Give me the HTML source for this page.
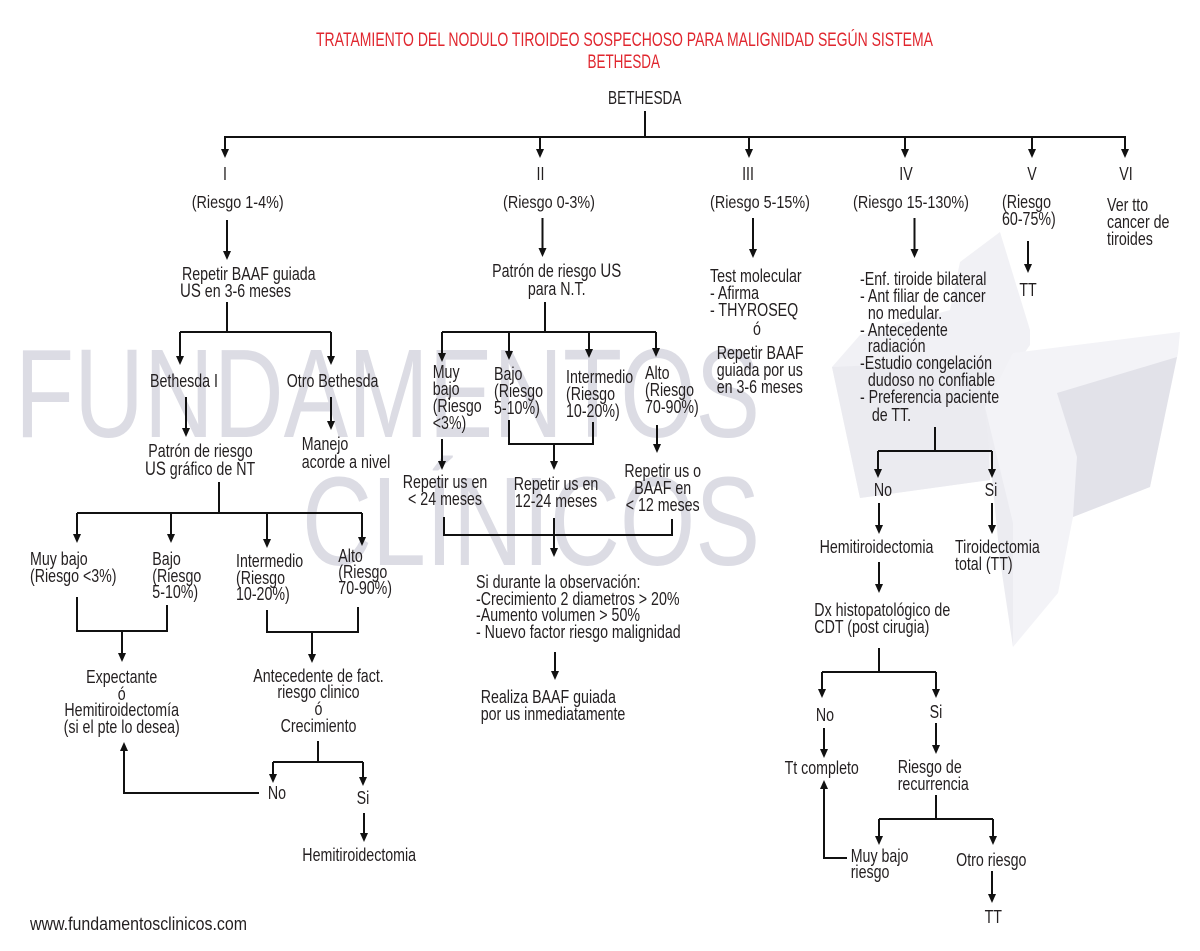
<!DOCTYPE html>
<html>
<head>
<meta charset="utf-8">
<style>
html,body{margin:0;padding:0;background:#fff;}
svg{display:block;}
.t{font-family:"Liberation Sans","DejaVu Sans",sans-serif;font-size:18px;fill:#231f20;}
.wm{font-family:"Liberation Sans","DejaVu Sans",sans-serif;font-size:126px;fill:#dcdce4;}
.ttl{font-family:"Liberation Sans","DejaVu Sans",sans-serif;font-size:19px;fill:#e0262e;}
.ln{stroke:#111;stroke-width:2;fill:none;}
.ah{fill:#111;}
</style>
</head>
<body>
<svg width="1200" height="951" viewBox="0 0 1200 951" xmlns="http://www.w3.org/2000/svg">
<rect width="1200" height="951" fill="#fff"/>

<!-- logo watermark -->
<g>
  <polygon points="832,367 860,335 950,310 960,262 1000,232 1030,330 1030,345 987,407 990,480 860,498" fill="#f1f1f5"/>
  <polygon points="832,367 987,360 990,480 860,498" fill="#ebebf0"/>
  <polygon points="985,407 1013,353 1180,332 1178,353 1150,487 1073,517 1058,593 1013,647" fill="#f3f3f7"/>
  <polygon points="1057,393 1177,357 1150,487 1073,517 1077,457" fill="#e2e2e9"/>
  <polygon points="985,407 1013,523 1013,647 1000,560" fill="#ececf1"/>
</g>

<!-- text watermark -->
<text class="wm" x="15" y="437" textLength="745" lengthAdjust="spacingAndGlyphs">FUNDAMENTOS</text>
<text class="wm" x="302" y="565" textLength="458" lengthAdjust="spacingAndGlyphs">CLÍNICOS</text>

<!-- title -->
<text class="ttl" x="316" y="46" textLength="617" lengthAdjust="spacingAndGlyphs">TRATAMIENTO DEL NODULO TIROIDEO SOSPECHOSO PARA MALIGNIDAD SEGÚN SISTEMA</text>
<text class="ttl" x="587.5" y="68" textLength="72.5" lengthAdjust="spacingAndGlyphs">BETHESDA</text>

<!-- lines -->
<path class="ln" d="
M645 111V137
M224 137H1126
M225 137V150 M540 137V150 M749 137V150 M905 137V150 M1032 137V150 M1125 137V150
M227 220V252
M542.5 218V249
M753 218V250
M914.5 218V250
M1028 241V265
M227 302V332 M180 332H331 M180 332V357 M331 332V357
M186 397V429
M331 397V422
M219 482V513 M77 513H362 M77 513V535 M171 513V535 M267 513V540 M362 513V538
M77 597V631H167V605
M267 610V632H358V607
M122 631V654
M312 632V655
M318 741V762 M273 762H363 M273 762V775 M363 762V778
M259 793H124V750
M364 813V834
M545 302V332 M442 332H656 M442 332V354 M509 332V352 M589 332V350 M656 332V349
M442 439V462
M509 420V444H593V422 M554 444V462
M657 425V445
M444 517V535H672V519 M554 518V549
M555 652V672
M935 427V451 M878 451H992 M878 451V470 M992 451V470
M879 503V526 M992 503V526
M879 562V585
M879 648V672 M822 672H936 M822 672V690 M936 672V690
M824 728V750 M936 723V746
M936 795V819 M879 819H993 M879 819V837 M993 819V837
M847 858H824V788
M992 871V895
"/>

<!-- arrowheads -->
<g class="ah">
<polygon points="221,149 229,149 225,158"/>
<polygon points="536,149 544,149 540,158"/>
<polygon points="745,149 753,149 749,158"/>
<polygon points="901,149 909,149 905,158"/>
<polygon points="1028,149 1036,149 1032,158"/>
<polygon points="1121,149 1129,149 1125,158"/>
<polygon points="223,251 231,251 227,260"/>
<polygon points="538.5,248 546.5,248 542.5,257"/>
<polygon points="749,249 757,249 753,258"/>
<polygon points="910.5,249 918.5,249 914.5,258"/>
<polygon points="1024,264 1032,264 1028,273"/>
<polygon points="176,356 184,356 180,365"/>
<polygon points="327,356 335,356 331,365"/>
<polygon points="182,428 190,428 186,437"/>
<polygon points="327,421 335,421 331,430"/>
<polygon points="73,534 81,534 77,543"/>
<polygon points="167,534 175,534 171,543"/>
<polygon points="263,539 271,539 267,548"/>
<polygon points="358,537 366,537 362,546"/>
<polygon points="118,653 126,653 122,662"/>
<polygon points="308,654 316,654 312,663"/>
<polygon points="269,774 277,774 273,783"/>
<polygon points="359,777 367,777 363,786"/>
<polygon points="120,751 128,751 124,742"/>
<polygon points="360,833 368,833 364,842"/>
<polygon points="438,353 446,353 442,362"/>
<polygon points="505,351 513,351 509,360"/>
<polygon points="585,349 593,349 589,358"/>
<polygon points="652,348 660,348 656,357"/>
<polygon points="438,461 446,461 442,470"/>
<polygon points="550,461 558,461 554,470"/>
<polygon points="653,444 661,444 657,453"/>
<polygon points="550,548 558,548 554,557"/>
<polygon points="551,671 559,671 555,680"/>
<polygon points="874,469 882,469 878,478"/>
<polygon points="988,469 996,469 992,478"/>
<polygon points="875,525 883,525 879,534"/>
<polygon points="988,525 996,525 992,534"/>
<polygon points="875,584 883,584 879,593"/>
<polygon points="818,689 826,689 822,698"/>
<polygon points="932,689 940,689 936,698"/>
<polygon points="820,749 828,749 824,758"/>
<polygon points="932,745 940,745 936,754"/>
<polygon points="875,836 883,836 879,845"/>
<polygon points="989,836 997,836 993,845"/>
<polygon points="820,789 828,789 824,780"/>
<polygon points="988,894 996,894 992,903"/>
</g>

<!-- text -->
<text class="t" x="608" y="104" textLength="73.5" lengthAdjust="spacingAndGlyphs">BETHESDA</text>

<g class="t" text-anchor="middle">
<text transform="translate(225,0) scale(.79,1)" y="180">I</text>
<text transform="translate(540.5,0) scale(.79,1)" y="180">II</text>
<text transform="translate(748,0) scale(.79,1)" y="180">III</text>
<text transform="translate(906,0) scale(.79,1)" y="180">IV</text>
<text transform="translate(1032,0) scale(.79,1)" y="180">V</text>
<text transform="translate(1126,0) scale(.79,1)" y="180">VI</text>
<text transform="translate(237.7,0) scale(.8,1)" y="208">(Riesgo 1-4%)</text>
<text transform="translate(549,0) scale(.8,1)" y="208">(Riesgo 0-3%)</text>
<text transform="translate(760,0) scale(.8,1)" y="208">(Riesgo 5-15%)</text>
<text transform="translate(911,0) scale(.8,1)" y="208">(Riesgo 15-130%)</text>
<text transform="translate(1028,0) scale(.79,1)" y="296">TT</text>
<text transform="translate(556.7,0) scale(.79,1)"><tspan x="0" y="277">Patrón de riesgo <tspan font-size="19">US</tspan></tspan><tspan x="0" y="295">para N.T.</tspan></text>
<text transform="translate(757,0) scale(.79,1)" y="335">ó</text>
<text transform="translate(121.7,0) scale(.79,1)"><tspan x="0" y="683">Expectante</tspan><tspan x="0" y="700">ó</tspan><tspan x="0" y="716">Hemitiroidectomía</tspan><tspan x="0" y="733">(si el pte lo desea)</tspan></text>
<text transform="translate(318.5,0) scale(.79,1)"><tspan x="0" y="682">Antecedente de fact.</tspan><tspan x="0" y="698">riesgo clinico</tspan><tspan x="0" y="715">ó</tspan><tspan x="0" y="732">Crecimiento</tspan></text>
<text transform="translate(277,0) scale(.79,1)" y="799">No</text>
<text transform="translate(363,0) scale(.79,1)" y="804">Si</text>
<text transform="translate(445,0) scale(.79,1)"><tspan x="0" y="488">Repetir us en</tspan><tspan x="0" y="505">&lt; 24 meses</tspan></text>
<text transform="translate(556,0) scale(.79,1)"><tspan x="0" y="490">Repetir us en</tspan><tspan x="0" y="507">12-24 meses</tspan></text>
<text transform="translate(662.7,0) scale(.79,1)"><tspan x="0" y="477">Repetir us o</tspan><tspan x="0" y="494">BAAF en</tspan><tspan x="0" y="511">&lt; 12 meses</tspan></text>
<text transform="translate(883,0) scale(.79,1)" y="496">No</text>
<text transform="translate(991,0) scale(.79,1)" y="496">Si</text>
<text transform="translate(876.5,0) scale(.79,1)" y="553">Hemitiroidectomia</text>
<text transform="translate(825,0) scale(.79,1)" y="721">No</text>
<text transform="translate(936,0) scale(.79,1)" y="718">Si</text>
<text transform="translate(821.7,0) scale(.79,1)" y="774">Tt completo</text>
<text transform="translate(991.3,0) scale(.79,1)" y="866">Otro riesgo</text>
<text transform="translate(993.3,0) scale(.79,1)" y="923">TT</text>
</g>

<g class="t">
<text transform="translate(1002,0) scale(.79,1)"><tspan x="0" y="208">(Riesgo</tspan><tspan x="0" y="225">60-75%)</tspan></text>
<text transform="translate(1107,0) scale(.79,1)"><tspan x="0" y="211">Ver tto</tspan><tspan x="0" y="228">cancer de</tspan><tspan x="0" y="245">tiroides</tspan></text>
<text transform="translate(182,0) scale(.79,1)"><tspan x="0" y="280">Repetir BAAF guiada</tspan></text>
<text transform="translate(180,0) scale(.79,1)"><tspan x="0" y="297"><tspan font-size="19">US</tspan> en 3-6 meses</tspan></text>
<text transform="translate(710,0) scale(.79,1)"><tspan x="0" y="282">Test molecular</tspan><tspan x="0" y="299">- Afirma</tspan><tspan x="0" y="316">- THYROSEQ</tspan></text>
<text transform="translate(716.7,0) scale(.79,1)"><tspan x="0" y="359">Repetir BAAF</tspan><tspan x="0" y="376">guiada por us</tspan><tspan x="0" y="393">en 3-6 meses</tspan></text>
<text transform="translate(860,0) scale(.79,1)"><tspan x="0" y="285">-Enf. tiroide bilateral</tspan><tspan x="0" y="302">- Ant filiar de cancer</tspan><tspan x="10" y="319">no medular.</tspan><tspan x="0" y="336">- Antecedente</tspan><tspan x="10" y="352">radiación</tspan><tspan x="0" y="369">-Estudio congelación</tspan><tspan x="10" y="386">dudoso no confiable</tspan><tspan x="0" y="403">- Preferencia paciente</tspan><tspan x="15" y="421">de TT.</tspan></text>
<text transform="translate(150,0) scale(.79,1)" y="387">Bethesda I</text>
<text transform="translate(286.7,0) scale(.79,1)" y="387">Otro Bethesda</text>
<text transform="translate(148.3,0) scale(.79,1)"><tspan x="0" y="457">Patrón de riesgo</tspan></text>
<text transform="translate(145,0) scale(.79,1)"><tspan x="0" y="475"><tspan font-size="19">US</tspan> gráfico de NT</tspan></text>
<text transform="translate(301.7,0) scale(.79,1)"><tspan x="0" y="450">Manejo</tspan><tspan x="0" y="468">acorde a nivel</tspan></text>
<text transform="translate(30,0) scale(.79,1)"><tspan x="0" y="565">Muy bajo</tspan><tspan x="0" y="582">(Riesgo &lt;3%)</tspan></text>
<text transform="translate(152.3,0) scale(.79,1)"><tspan x="0" y="565">Bajo</tspan><tspan x="0" y="582">(Riesgo</tspan><tspan x="0" y="598">5-10%)</tspan></text>
<text transform="translate(236,0) scale(.79,1)"><tspan x="0" y="567">Intermedio</tspan><tspan x="0" y="584">(Riesgo</tspan><tspan x="0" y="600">10-20%)</tspan></text>
<text transform="translate(338.3,0) scale(.79,1)"><tspan x="0" y="562">Alto</tspan><tspan x="0" y="578">(Riesgo</tspan><tspan x="0" y="594">70-90%)</tspan></text>
<text transform="translate(302.3,0) scale(.79,1)" y="861">Hemitiroidectomia</text>
<text x="30" y="930" textLength="217" lengthAdjust="spacingAndGlyphs">www.fundamentosclinicos.com</text>
<text transform="translate(432.7,0) scale(.79,1)"><tspan x="0" y="378">Muy</tspan><tspan x="0" y="395">bajo</tspan><tspan x="0" y="412">(Riesgo</tspan><tspan x="0" y="429">&lt;3%)</tspan></text>
<text transform="translate(494,0) scale(.79,1)"><tspan x="0" y="380">Bajo</tspan><tspan x="0" y="397">(Riesgo</tspan><tspan x="0" y="414">5-10%)</tspan></text>
<text transform="translate(566,0) scale(.79,1)"><tspan x="0" y="383">Intermedio</tspan><tspan x="0" y="400">(Riesgo</tspan><tspan x="0" y="417">10-20%)</tspan></text>
<text transform="translate(645,0) scale(.79,1)"><tspan x="0" y="379">Alto</tspan><tspan x="0" y="396">(Riesgo</tspan><tspan x="0" y="413">70-90%)</tspan></text>
<text transform="translate(476,0) scale(.79,1)"><tspan x="0" y="588">Si durante la observación:</tspan><tspan x="0" y="605">-Crecimiento 2 diametros &gt; 20%</tspan><tspan x="0" y="621">-Aumento volumen &gt; 50%</tspan><tspan x="0" y="638">- Nuevo factor riesgo malignidad</tspan></text>
<text transform="translate(480.7,0) scale(.79,1)"><tspan x="0" y="703">Realiza BAAF guiada</tspan><tspan x="0" y="720">por us inmediatamente</tspan></text>
<text transform="translate(955,0) scale(.79,1)"><tspan x="0" y="553">Tiroidectomia</tspan><tspan x="0" y="570">total (TT)</tspan></text>
<text transform="translate(814.3,0) scale(.79,1)"><tspan x="0" y="616">Dx histopatológico de</tspan><tspan x="0" y="633">CDT (post cirugia)</tspan></text>
<text transform="translate(897.7,0) scale(.79,1)"><tspan x="0" y="773">Riesgo de</tspan><tspan x="0" y="790">recurrencia</tspan></text>
<text transform="translate(850.7,0) scale(.79,1)"><tspan x="0" y="862">Muy bajo</tspan><tspan x="0" y="878">riesgo</tspan></text>
</g>
</svg>
</body>
</html>
